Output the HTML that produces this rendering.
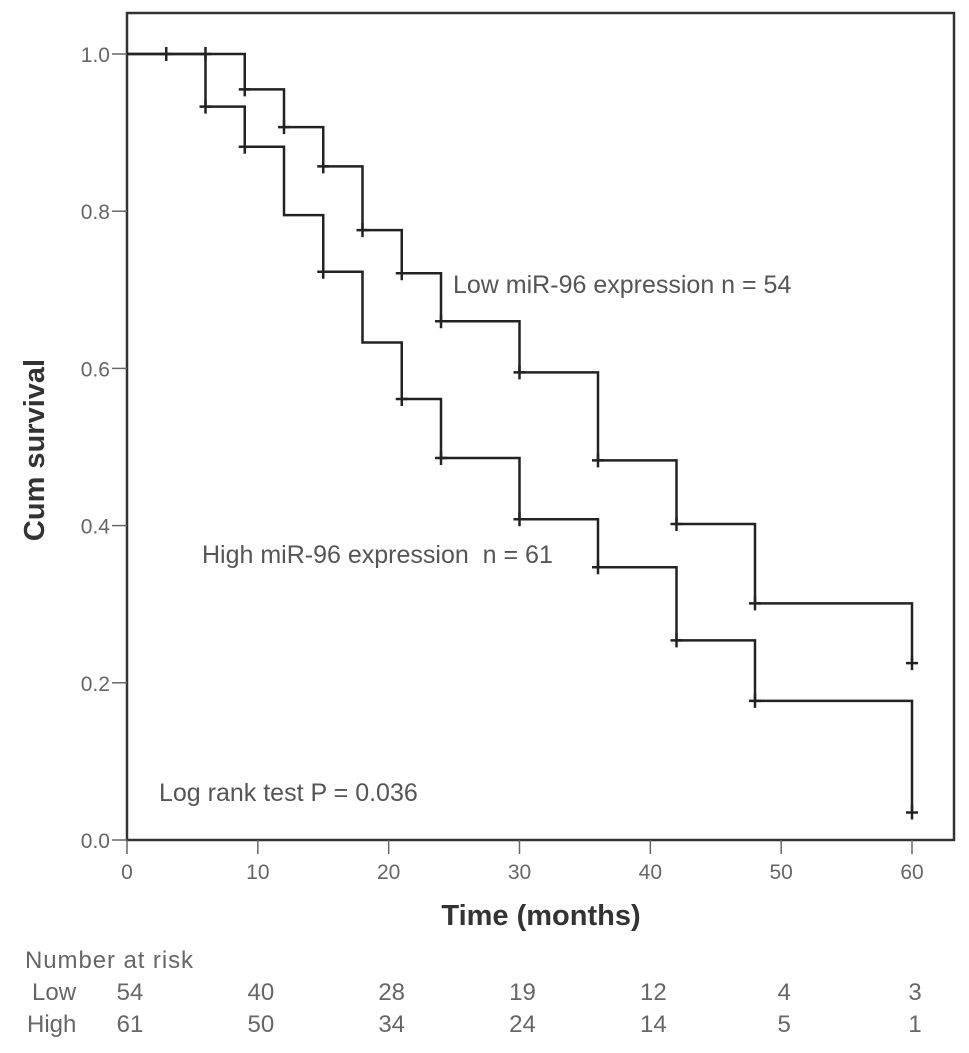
<!DOCTYPE html>
<html><head><meta charset="utf-8"><style>
body{margin:0;background:#fff;}
svg text{font-family:"Liberation Sans",sans-serif;}
</style></head><body>
<svg id="c" width="969" height="1048" xmlns="http://www.w3.org/2000/svg"></svg>
<script>
const xTicks=[0,10,20,30,40,50,60];
const yTicks=[0.0,0.2,0.4,0.6,0.8,1.0];
const lowTimes=[0,9,12,15,18,21,24,30,36,42,48,60];
const lowSurv=[1.0,0.955,0.907,0.857,0.776,0.721,0.66,0.595,0.483,0.402,0.301,0.225];
const lowCensor=[3,6,9,12,15,18,21,24,30,36,42,48,60];
const highTimes=[0,6,9,12,15,18,21,24,30,36,42,48,60];
const highSurv=[1.0,0.933,0.882,0.795,0.723,0.633,0.561,0.486,0.408,0.347,0.254,0.177,0.035];
const highCensor=[6,9,15,21,24,30,36,42,48,60];
const riskLow=[54,40,28,19,12,4,3];
const riskHigh=[61,50,34,24,14,5,1];

const svg=document.getElementById('c');
const NS='http://www.w3.org/2000/svg';
const X=t=>127+t*(785/60);
const Y=v=>840-v*786;
function mk(tag,attrs,parent){const e=document.createElementNS(NS,tag);for(const k in attrs)e.setAttribute(k,attrs[k]);(parent||svg).appendChild(e);return e;}
function txt(s,x,y,attrs){const e=mk('text',Object.assign({x:x,y:y},attrs||{}));e.textContent=s;return e;}

const frame=mk('rect',{x:127,y:13,width:827,height:827,fill:'none',stroke:'#333','stroke-width':2.5});



xTicks.forEach(t=>{
  const l=mk('line',{x1:X(t),x2:X(t),y1:840,y2:854,stroke:'#666','stroke-width':1.5});
  
  
  const e=txt(String(t),X(t),879,{'font-size':21,fill:'#666','text-anchor':'middle'});
  
  
});
yTicks.forEach(v=>{
  const l=mk('line',{x1:112,x2:127,y1:Y(v),y2:Y(v),stroke:'#666','stroke-width':1.5});
  
  
  const e=txt(v.toFixed(1),110,Y(v)+8,{'font-size':21,fill:'#666','text-anchor':'end'});
  
  
});

function curve(times,surv,cens,name){
  let d='M'+X(times[0])+','+Y(surv[0]);
  for(let i=1;i<times.length;i++){d+=' H'+X(times[i])+' V'+Y(surv[i]);}
  const p=mk('path',{d:d,fill:'none',stroke:'#222','stroke-width':2.5});
  
  
  cens.forEach(t=>{
    let v=surv[0];
    for(let i=0;i<times.length;i++){if(times[i]<=t)v=surv[i];}
    const m=mk('path',{d:'M'+X(t)+','+(Y(v)-7)+' V'+(Y(v)+7)+' M'+(X(t)-6)+','+Y(v)+' H'+(X(t)+6),stroke:'#222','stroke-width':2.5,fill:'none'});
    
    
  });
}
curve(lowTimes,lowSurv,lowCensor,'low');
curve(highTimes,highSurv,highCensor,'high');

let e;
e=txt('Low miR-96 expression n = 54',453,293,{'font-size':25,fill:'#555'});

e=txt('High miR-96 expression\u00a0 n = 61',202,563,{'font-size':25,fill:'#555'});

e=txt('Log rank test P = 0.036',159,801,{'font-size':25,fill:'#555'});

e=txt('Time (months)',541,925,{'font-size':29,'font-weight':'bold',fill:'#333','text-anchor':'middle'});

e=txt('Cum survival',0,0,{'font-size':29,'font-weight':'bold',fill:'#333','text-anchor':'middle',transform:'translate(44,450) rotate(-90)'});

e=txt('Number at risk',25,968,{'font-size':24,fill:'#666',textLength:168});

e=txt('Low',32,1000,{'font-size':24,fill:'#666'});

e=txt('High',27,1032,{'font-size':24,fill:'#666'});

xTicks.forEach((t,i)=>{
  const a=txt(String(riskLow[i]),X(t)+3,1000,{'font-size':24,fill:'#666','text-anchor':'middle'});
  
  
  const b=txt(String(riskHigh[i]),X(t)+3,1032,{'font-size':24,fill:'#666','text-anchor':'middle'});
  
  
});
</script>
</body></html>
